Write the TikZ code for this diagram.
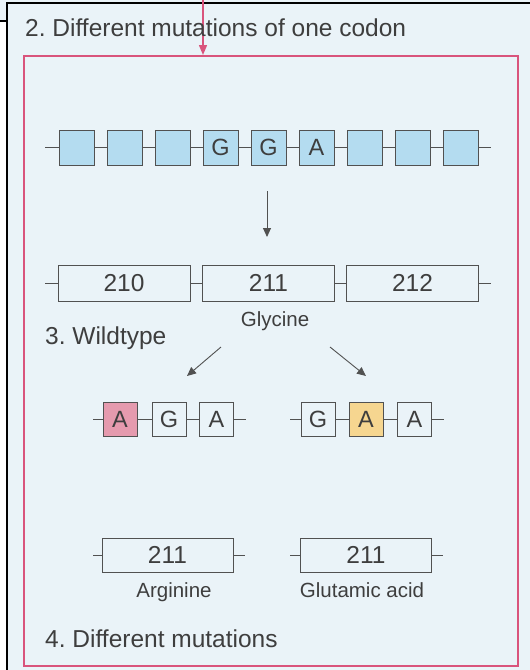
\documentclass[tikz,border=0pt]{standalone}
\usepackage{fontspec}
\setmainfont{Liberation Sans}
\usetikzlibrary{arrows.meta}
\definecolor{bg}{HTML}{EAF3F8}
\definecolor{frame}{HTML}{D9547C}
\definecolor{boxblue}{HTML}{B4DCF0}
\definecolor{ink}{HTML}{3E3E3E}
\definecolor{mutred}{HTML}{E59AAE}
\definecolor{mutyel}{HTML}{F6D690}
\frenchspacing
\begin{document}
\begin{tikzpicture}[x=1pt,y=-1pt,
  every node/.style={text=ink},
  base/.style={draw=ink!90, line width=0.9pt, inner sep=0pt},
  nt/.style={base, minimum width=35pt, minimum height=35pt,
    font=\fontsize{23.5}{23.5}\selectfont},
  ntsmall/.style={base, minimum width=34pt, minimum height=34pt,
    font=\fontsize{23.5}{23.5}\selectfont},
  codon/.style={base, minimum width=132pt, minimum height=36pt,
    font=\fontsize{24.5}{24.5}\selectfont},
  label/.style={font=\fontsize{20.5}{20.5}\selectfont, anchor=base, inner sep=0pt},
  heading/.style={font=\fontsize{24.5}{24.5}\selectfont, anchor=base west, inner sep=0pt},
  chain/.style={draw=ink!90, line width=0.9pt},
  step arrow/.style={draw=ink!90, line width=0.9pt, -{Triangle[length=9pt,width=8pt]}}
]
\useasboundingbox (0,0) rectangle (530,670);
% page background and outer rules
\fill[bg] (0,0) rectangle (530,670);
\fill[white] (0,21) rectangle (7,670);
\draw[black, line width=2pt] (7,2.5) -- (530,2.5);
\draw[black, line width=2.4pt] (7,2) -- (7,670);
\draw[black, line width=1.6pt] (0,21) -- (7,21);

% framed panel with incoming arrow
\draw[frame, line width=2.2pt] (24,56) rectangle (518,666);
\coordinate (inTop) at (203,0);
\coordinate (inEnd) at (203,55);
\draw[frame, line width=1.4pt, -{Triangle[length=10pt,width=8pt]}] (inTop) -- (inEnd);

\node[heading] (title) at (25,36.5) {2. Different mutations of one codon};

% row 1: nucleotide strand
\coordinate (r1L) at (45,147.5);
\coordinate (r1R) at (491,147.5);
\foreach \i/\t in {0/,1/,2/,3/G,4/G,5/A,6/,7/,8/} {
  \node[nt, fill=boxblue] (n\i) at ({76.5+48*\i},147.5) {\t};
}
\draw[chain] (r1L) -- (n0);
\foreach \i [count=\j from 1] in {0,...,7} { \draw[chain] (n\i) -- (n\j); }
\draw[chain] (n8) -- (r1R);

\coordinate (d1) at (267,191);
\coordinate (d2) at (267,237);
\draw[step arrow] (d1) -- (d2);

% row 2: codons 210-212
\coordinate (r2L) at (45,283);
\coordinate (r2R) at (491,283);
\node[codon] (c210) at (124,283) {210};
\node[codon] (c211) at (268.5,283) {211};
\node[codon] (c212) at (412.5,283) {212};
\draw[chain] (r2L) -- (c210) (c210) -- (c211) (c211) -- (c212) (c212) -- (r2R);
\node[label] (gly) at (275,326) {Glycine};
\node[heading] (wild) at (45,344) {3. Wildtype};

\coordinate (aL1) at (221,347);
\coordinate (aL2) at (187,376);
\coordinate (aR1) at (330,347);
\coordinate (aR2) at (366,376);
\draw[step arrow] (aL1) -- (aL2);
\draw[step arrow] (aR1) -- (aR2);

% row 3: mutated codons
\coordinate (m1L) at (93,419);
\coordinate (m1R) at (246,419);
\node[ntsmall, fill=mutred] (a1) at (120,419) {A};
\node[ntsmall] (a2) at (169,419) {G};
\node[ntsmall] (a3) at (216.5,419) {A};
\draw[chain] (m1L) -- (a1) (a1) -- (a2) (a2) -- (a3) (a3) -- (m1R);

\coordinate (m2L) at (290,419);
\coordinate (m2R) at (444,419);
\node[ntsmall] (b1) at (318,419) {G};
\node[ntsmall, fill=mutyel] (b2) at (366,419) {A};
\node[ntsmall] (b3) at (414.5,419) {A};
\draw[chain] (m2L) -- (b1) (b1) -- (b2) (b2) -- (b3) (b3) -- (m2R);

% row 4: resulting codons
\coordinate (p1L) at (93,555);
\coordinate (p1R) at (245,555);
\node[codon, minimum width=131pt, minimum height=34pt] (arg) at (167.5,555) {211};
\draw[chain] (p1L) -- (arg) (arg) -- (p1R);
\coordinate (p2L) at (290,555);
\coordinate (p2R) at (443,555);
\node[codon, minimum width=131pt, minimum height=34pt] (glu) at (366,555) {211};
\draw[chain] (p2L) -- (glu) (glu) -- (p2R);
\node[label] (argl) at (174,597) {Arginine};
\node[label] (glul) at (362,597) {Glutamic acid};

\node[heading] (mut) at (45,647) {4. Different mutations};
\end{tikzpicture}
\end{document}
